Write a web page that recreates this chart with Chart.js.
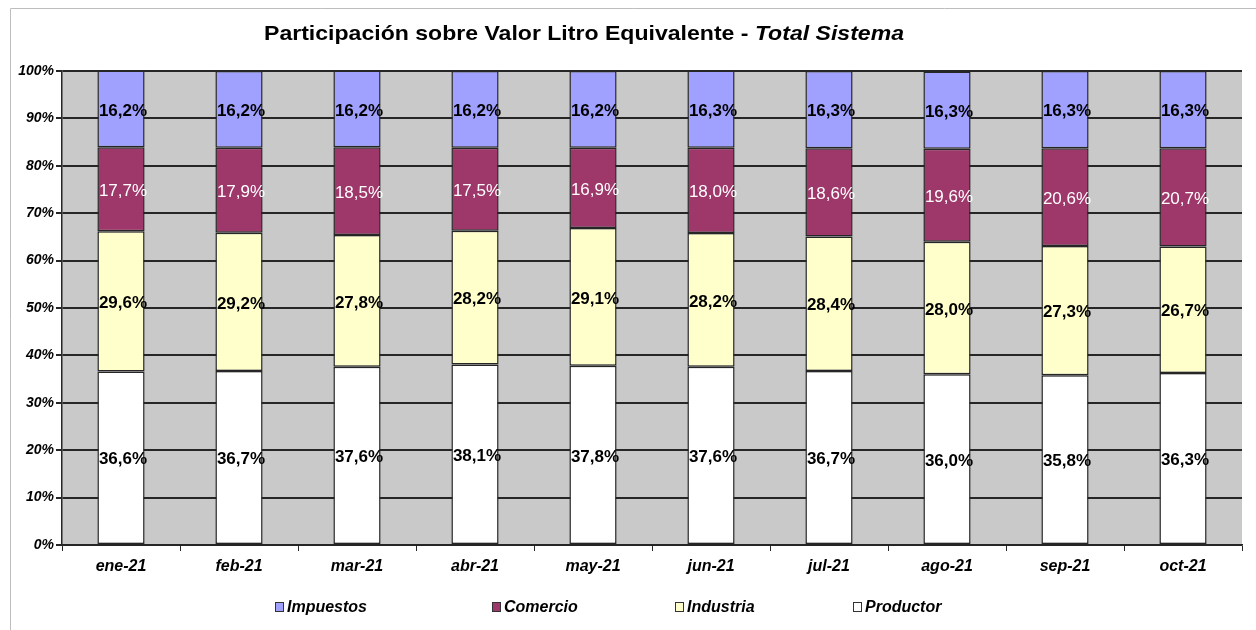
<!DOCTYPE html>
<html>
<head>
<meta charset="utf-8">
<script src="https://cdn.jsdelivr.net/npm/chart.js@4.4.1/dist/chart.umd.min.js"></script>
<style>
  html, body { margin: 0; padding: 0; background: #fff; }
  #box { position: relative; width: 1256px; height: 630px; }
</style>
</head>
<body>
<div id="box"><canvas id="grafico" width="1256" height="630"></canvas></div>
<script>
const meses = ['ene-21', 'feb-21', 'mar-21', 'abr-21', 'may-21', 'jun-21', 'jul-21', 'ago-21', 'sep-21', 'oct-21'];
const productor = [36.6, 36.7, 37.6, 38.1, 37.8, 37.6, 36.7, 36.0, 35.8, 36.3];
const industria = [29.6, 29.2, 27.8, 28.2, 29.1, 28.2, 28.4, 28.0, 27.3, 26.7];
const comercio  = [17.7, 17.9, 18.5, 17.5, 16.9, 18.0, 18.6, 19.6, 20.6, 20.7];
const impuestos = [16.2, 16.2, 16.2, 16.2, 16.2, 16.3, 16.3, 16.3, 16.3, 16.3];
const marcasY = [0, 10, 20, 30, 40, 50, 60, 70, 80, 90, 100];

const titulo = 'Participación sobre Valor Litro Equivalente - ';
const tituloItalica = 'Total Sistema';

const borde = '#262626';

// fondo gris del area de trazado y marco exterior
const fondo = {
  id: 'fondo',
  beforeDraw(chart) {
    const {ctx, chartArea: a} = chart;
    ctx.save();
    ctx.fillStyle = '#c9c9c9';
    ctx.fillRect(a.left, a.top, a.right - a.left, a.bottom - a.top);
    ctx.strokeStyle = '#bdbdbd';
    ctx.lineWidth = 1;
    ctx.beginPath();
    ctx.moveTo(10.5, 630);
    ctx.lineTo(10.5, 8.5);
    ctx.lineTo(1256, 8.5);
    ctx.stroke();
    ctx.restore();
  }
};

// titulo con parte en cursiva, estirado al ancho del original
const tituloMixto = {
  id: 'tituloMixto',
  afterDraw(chart) {
    const ctx = chart.ctx;
    ctx.save();
    ctx.fillStyle = '#000';
    ctx.textBaseline = 'alphabetic';
    ctx.textAlign = 'left';
    const f1 = 'bold 21px Arial, "Liberation Sans"';
    const f2 = 'italic bold 21px Arial, "Liberation Sans"';
    ctx.font = f1;
    const w1 = ctx.measureText(titulo).width;
    ctx.font = f2;
    const w2 = ctx.measureText(tituloItalica).width;
    const x0 = 264, ancho = 640;
    const k = ancho / (w1 + w2);
    ctx.translate(x0, 40);
    ctx.scale(k, 1);
    ctx.font = f1;
    ctx.fillText(titulo, 0, 0);
    ctx.font = f2;
    ctx.fillText(tituloItalica, w1, 0);
    ctx.restore();
  }
};

// etiquetas de valores dentro de cada segmento
const etiquetas = {
  id: 'etiquetas',
  afterDatasetsDraw(chart) {
    const ctx = chart.ctx;
    ctx.save();
    ctx.textAlign = 'center';
    ctx.textBaseline = 'middle';
    chart.data.datasets.forEach((ds, i) => {
      const meta = chart.getDatasetMeta(i);
      ctx.font = ds.fuenteEtiqueta;
      ctx.fillStyle = ds.colorEtiqueta;
      meta.data.forEach((bar, j) => {
        const y = (bar.y + bar.base) / 2;
        const txt = ds.data[j].toFixed(1).replace('.', ',') + '%';
        ctx.fillText(txt, bar.x + 2, y + 2);
      });
    });
    ctx.restore();
  }
};

// leyenda al pie
const leyenda = {
  id: 'leyenda',
  afterDraw(chart) {
    const ctx = chart.ctx;
    const orden = [3, 2, 1, 0];
    const xs = [275, 492, 675, 853];
    const y = 607;
    ctx.save();
    ctx.font = 'italic bold 16px Arial, "Liberation Sans"';
    ctx.textBaseline = 'middle';
    ctx.textAlign = 'left';
    orden.forEach((i, n) => {
      const ds = chart.data.datasets[i];
      ctx.fillStyle = ds.backgroundColor;
      ctx.fillRect(xs[n] + 0.5, y - 4.5, 8, 9);
      ctx.strokeStyle = '#333';
      ctx.lineWidth = 1;
      ctx.strokeRect(xs[n] + 0.5, y - 4.5, 8, 9);
      ctx.fillStyle = '#000';
      ctx.fillText(ds.label, xs[n] + 12, y + 1);
    });
    ctx.restore();
  }
};

const fuenteNegrita = 'bold 17px Arial, "Liberation Sans"';

new Chart(document.getElementById('grafico'), {
  type: 'bar',
  data: {
    labels: meses,
    datasets: [
      { label: 'Productor', data: productor, backgroundColor: '#ffffff', colorEtiqueta: '#000', fuenteEtiqueta: fuenteNegrita },
      { label: 'Industria', data: industria, backgroundColor: '#ffffcc', colorEtiqueta: '#000', fuenteEtiqueta: fuenteNegrita },
      { label: 'Comercio', data: comercio, backgroundColor: '#9e386b', colorEtiqueta: '#fff', fuenteEtiqueta: '17px Arial, "Liberation Sans"' },
      { label: 'Impuestos', data: impuestos, backgroundColor: '#a0a0ff', colorEtiqueta: '#000', fuenteEtiqueta: fuenteNegrita }
    ].map(d => Object.assign(d, {
      borderColor: borde,
      borderWidth: 1.5,
      borderSkipped: false,
      categoryPercentage: 1,
      barPercentage: 0.4
    }))
  },
  options: {
    responsive: false,
    animation: false,
    devicePixelRatio: 1,
    layout: { padding: { top: 71, right: 14, left: 0, bottom: 0 } },
    plugins: {
      legend: { display: false },
      title: { display: false },
      tooltip: { enabled: false }
    },
    scales: {
      x: {
        stacked: true,
        offset: true,
        grid: { offset: true, drawOnChartArea: false, color: borde, tickLength: 6, lineWidth: 1 },
        border: { color: borde, width: 1.5 },
        ticks: {
          color: '#000',
          padding: 6,
          font: { family: 'Arial, "Liberation Sans"', size: 16, weight: 'bold', style: 'italic' }
        },
        afterFit(scale) { scale.height = 85; }
      },
      y: {
        stacked: true,
        min: 0,
        max: 100,
        afterBuildTicks(scale) { scale.ticks = marcasY.map(v => ({ value: v })); },
        grid: { color: borde, lineWidth: 2, tickLength: 6 },
        border: { color: borde, width: 1.5 },
        ticks: {
          color: '#000',
          padding: 2,
          font: { family: 'Arial, "Liberation Sans"', size: 14, weight: 'bold', style: 'italic' },
          callback: v => v + '%'
        },
        afterFit(scale) { scale.width = 62; }
      }
    }
  },
  plugins: [fondo, etiquetas, tituloMixto, leyenda]
});
</script>
</body>
</html>
